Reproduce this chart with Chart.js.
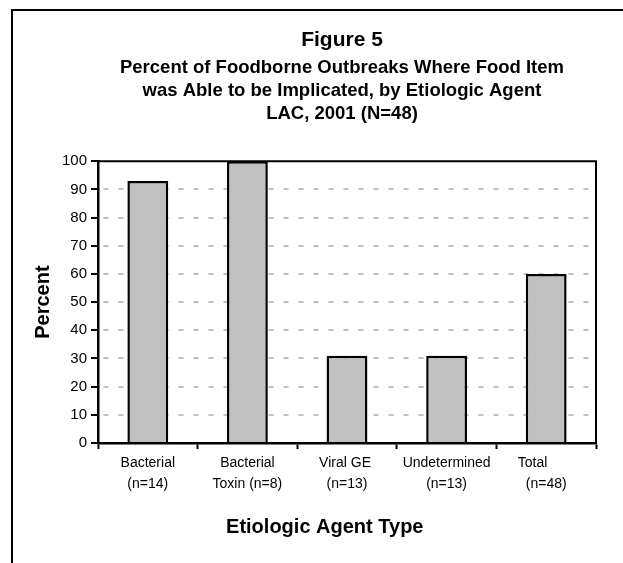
<!DOCTYPE html>
<html>
<head>
<meta charset="utf-8">
<script src="https://cdn.jsdelivr.net/npm/chart.js@4.4.1/dist/chart.umd.min.js"></script>
<style>
  html, body { margin: 0; padding: 0; background: #fff; overflow: hidden; }
  #wrap { position: absolute; left: 0; top: 0; width: 623px; height: 563px; overflow: hidden; }
</style>
</head>
<body>
<div id="wrap"><canvas id="foodChart" width="684" height="563"></canvas></div>
<script>
// Data
const agentLabels = [
  ["Bacterial", "(n=14)"],
  ["Bacterial", "Toxin (n=8)"],
  ["Viral GE ", "(n=13)"],
  ["Undetermined", "(n=13)"],
  ["Total       ", "(n=48)"]
];
const percentImplicated = [93, 100, 31, 31, 60];
const yTicks = [0, 10, 20, 30, 40, 50, 60, 70, 80, 90, 100];

const titleText = "Figure 5";
const subtitleLines = [
  "Percent of Foodborne Outbreaks Where Food Item",
  "was Able to be Implicated, by Etiologic Agent",
  "LAC, 2001 (N=48)"
];

const FONT = '"Liberation Sans", Arial, Helvetica, sans-serif';

// outer frame + plot box
const framePlugin = {
  id: "frame",
  beforeDraw(chart) {
    const ctx = chart.ctx;
    ctx.save();
    ctx.fillStyle = "#fff";
    ctx.fillRect(0, 0, chart.width, chart.height);
    ctx.strokeStyle = "#000";
    ctx.lineWidth = 2;
    ctx.strokeRect(12, 10, 2000, 2000);
    ctx.restore();
  },
  afterDraw(chart) {
    const a = chart.chartArea;
    const ctx = chart.ctx;
    ctx.save();
    ctx.strokeStyle = "#000";
    ctx.lineWidth = 2;
    ctx.beginPath();
    ctx.moveTo(a.left, a.top);
    ctx.lineTo(a.right, a.top);
    ctx.lineTo(a.right, a.bottom);
    ctx.stroke();
    ctx.restore();
  }
};

const ctx = document.getElementById("foodChart");

new Chart(ctx, {
  type: "bar",
  data: {
    labels: agentLabels,
    datasets: [
      {
        data: percentImplicated,
        backgroundColor: "#c0c0c0",
        borderColor: "#000",
        borderWidth: 2.5,
        barPercentage: 0.41,
        categoryPercentage: 1.0
      }
    ]
  },
  options: {
    responsive: false,
    animation: false,
    layout: { padding: 0 },
    plugins: {
      legend: { display: false },
      tooltip: { enabled: false },
      title: {
        display: true,
        text: titleText,
        color: "#000",
        font: { family: FONT, size: 21, weight: "bold", lineHeight: 1.2 },
        padding: { top: 28, bottom: 0 }
      },
      subtitle: {
        display: true,
        text: subtitleLines,
        color: "#000",
        font: { family: FONT, size: 18.5, weight: "bold", lineHeight: 23 / 18.5 },
        padding: { top: 3, bottom: 36 }
      }
    },
    scales: {
      x: {
        grid: {
          display: true,
          offset: true,
          drawOnChartArea: false,
          color: "#000",
          tickLength: 6,
          tickWidth: 2
        },
        border: { display: true, color: "#000", width: 2.5, z: 1 },
        ticks: {
          color: "#000",
          padding: 4,
          maxRotation: 0,
          autoSkip: false,
          font: { family: FONT, size: 14, lineHeight: 1.5 }
        },
        title: {
          display: true,
          text: "Etiologic Agent Type        ",
          color: "#000",
          font: { family: FONT, size: 20, weight: "bold", lineHeight: 1.2 },
          padding: { top: 0, bottom: 24 }
        },
        afterFit(scale) { scale.height = 120; }
      },
      y: {
        min: 0,
        max: 100,
        afterBuildTicks(scale) { scale.ticks = yTicks.map(v => ({ value: v })); },
        grid: {
          color: (c) => (c.tick && (c.tick.value === 0 || c.tick.value === 100)) ? "rgba(0,0,0,0)" : "#c0c0c0",
          lineWidth: 2,
          tickColor: "#000",
          tickLength: 7,
          tickWidth: 2
        },
        border: { display: true, color: "#000", width: 2.5, dash: [5, 10], dashOffset: 11, z: 1 },
        ticks: {
          color: "#000",
          padding: 4,
          font: { family: FONT, size: 15 }
        },
        title: {
          display: true,
          text: "Percent",
          color: "#000",
          font: { family: FONT, size: 20, weight: "bold", lineHeight: 1.2 },
          padding: { top: 31, bottom: 0 }
        },
        afterFit(scale) { scale.width = 98; }
      },
      yRight: {
        position: "right",
        display: true,
        grid: { display: false },
        border: { display: false },
        ticks: { display: false },
        afterFit(scale) { scale.width = 88; }
      }
    }
  },
  plugins: [framePlugin]
});
</script>
</body>
</html>
